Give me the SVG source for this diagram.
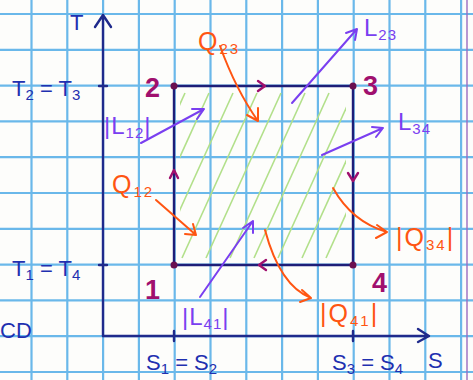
<svg xmlns="http://www.w3.org/2000/svg" width="473" height="380" viewBox="0 0 473 380">
<defs>
<style>
.grid line{stroke:#6ab8ea;stroke-width:2.2}
.ax{stroke:#1f2a8c;stroke-width:2.4;fill:none;stroke-linecap:round;stroke-linejoin:round}
.box{stroke:#1e1e78;stroke-width:2.4;fill:none}
.hatch line{stroke:#b2e08a;stroke-width:1.6}
.dir{stroke:#a0106e;stroke-width:2.4;fill:none;stroke-linecap:round;stroke-linejoin:round}
.pu{stroke:#7a3ff0;stroke-width:2;fill:none;stroke-linecap:round;stroke-linejoin:round}
.or{stroke:#ff5512;stroke-width:2;fill:none;stroke-linecap:round;stroke-linejoin:round}
text{font-family:"Liberation Sans","DejaVu Sans",sans-serif}
.tb{fill:#1f30b0;font-size:22px}
.tm{fill:#a0106e;font-size:27px;font-weight:bold}
.tp{fill:#7a3ff0;font-size:24px;letter-spacing:1px}
.to{fill:#ff5512;font-size:25px;letter-spacing:2px}
.sub{font-size:15px}
</style>
<clipPath id="hc"><rect x="180" y="92" width="166" height="168"/></clipPath>
</defs>
<rect width="473" height="380" fill="#fdfdfb"/>
<g class="grid">
<line x1="31.5" y1="0" x2="31.5" y2="380"/><line x1="67.3" y1="0" x2="67.3" y2="380"/><line x1="138.9" y1="0" x2="138.9" y2="380"/><line x1="210.5" y1="0" x2="210.5" y2="380"/><line x1="246.3" y1="0" x2="246.3" y2="380"/><line x1="282.1" y1="0" x2="282.1" y2="380"/><line x1="317.9" y1="0" x2="317.9" y2="380"/><line x1="389.5" y1="0" x2="389.5" y2="380"/><line x1="425.3" y1="0" x2="425.3" y2="380"/><line x1="461.1" y1="0" x2="461.1" y2="380"/><line x1="103.1" y1="0" x2="103.1" y2="380"/><line x1="174.7" y1="0" x2="174.7" y2="380"/><line x1="353.7" y1="0" x2="353.7" y2="380"/>
<line x1="0" y1="14" x2="473" y2="14"/><line x1="0" y1="49.8" x2="473" y2="49.8"/><line x1="0" y1="85.6" x2="473" y2="85.6"/><line x1="0" y1="121.4" x2="473" y2="121.4"/><line x1="0" y1="157.2" x2="473" y2="157.2"/><line x1="0" y1="193" x2="473" y2="193"/><line x1="0" y1="228.8" x2="473" y2="228.8"/><line x1="0" y1="264.6" x2="473" y2="264.6"/><line x1="0" y1="300.4" x2="473" y2="300.4"/><line x1="0" y1="336.2" x2="473" y2="336.2"/><line x1="0" y1="372" x2="473" y2="372"/>
</g>
<line x1="467" y1="0" x2="467" y2="380" stroke="#9a6cc0" stroke-width="1.4"/>
<g class="hatch" clip-path="url(#hc)">
<line x1="110" y1="258" x2="185" y2="93"/><line x1="134" y1="258" x2="209" y2="93"/><line x1="158" y1="258" x2="233" y2="93"/><line x1="182" y1="258" x2="257" y2="93"/><line x1="206" y1="258" x2="281" y2="93"/><line x1="230" y1="258" x2="305" y2="93"/><line x1="254" y1="258" x2="329" y2="93"/><line x1="278" y1="258" x2="353" y2="93"/><line x1="302" y1="258" x2="377" y2="93"/><line x1="326" y1="258" x2="401" y2="93"/>
</g>
<g id="axes">
<path class="ax" d="M103 336 V15 M95 27 L103 15 L111 27"/>
<path class="ax" d="M103 336 H428 M418 329 L429 336 L418 342"/>
<path class="ax" d="M99 86 H107 M99 265 H107 M174 331 V341 M353 331 V341"/>
<text class="tb" x="70" y="30" font-size="24">T</text>
<text class="tb" x="428" y="368" font-size="24">S</text>
<text class="tb" x="12" y="96">T<tspan class="sub" dy="4">2</tspan><tspan dy="-4"> = T</tspan><tspan class="sub" dy="4">3</tspan></text>
<text class="tb" x="12" y="276">T<tspan class="sub" dy="4">1</tspan><tspan dy="-4"> = T</tspan><tspan class="sub" dy="4">4</tspan></text>
<text class="tb" x="146" y="370">S<tspan class="sub" dy="4">1</tspan><tspan dy="-4"> = S</tspan><tspan class="sub" dy="4">2</tspan></text>
<text class="tb" x="332" y="370">S<tspan class="sub" dy="4">3</tspan><tspan dy="-4"> = S</tspan><tspan class="sub" dy="4">4</tspan></text>
<text class="tb" x="0" y="338">CD</text>
</g>
<g id="cycle">
<path class="box" d="M174 265 V86 H353 V265 Z"/>
<path class="dir" d="M170 178 L174 170 L178 178 M258 81 L265 86 L258 91 M348 173 L353 181 L358 173 M266 260 L259 265 L266 270"/>
</g>
<g id="node1"><circle cx="174" cy="265" r="3.5" fill="#6a1050"/><text class="tm" x="145" y="299">1</text></g>
<g id="node2"><circle cx="174" cy="86" r="3.5" fill="#6a1050"/><text class="tm" x="145" y="97">2</text></g>
<g id="node3"><circle cx="353" cy="86" r="3.5" fill="#6a1050"/><text class="tm" x="363" y="95">3</text></g>
<g id="node4"><circle cx="353" cy="265" r="3.5" fill="#6a1050"/><text class="tm" x="372" y="292">4</text></g>
<g id="connectors">
<path class="pu" d="M141 143 L204 109 M192 109 L204 109 L197 119"/>
<path class="pu" d="M292 103 L357 29 M346 33 L357 29 L355 40"/>
<path class="pu" d="M322 155 L383 128 M372 127 L383 128 L376 137"/>
<path class="pu" d="M200 297 L253 221 M243 228 L253 221 L253 233"/>
<path class="or" d="M220 46 Q236 90 258 121 M258 108 L258 121 L247 115"/>
<path class="or" d="M156 200 L196 235 M193 224 L196 235 L185 234"/>
<path class="or" d="M333 188 Q352 222 387 232 M377 225 L387 232 L376 238"/>
<path class="or" d="M265 230 Q280 286 311 298 M302 290 L311 298 L300 302"/>
</g>
<g id="labels">
<text class="tp" x="104" y="134">|L<tspan class="sub" dy="4">12</tspan><tspan dy="-4">|</tspan></text>
<text class="tp" x="364" y="36">L<tspan class="sub" dy="4">23</tspan></text>
<text class="tp" x="398" y="130">L<tspan class="sub" dy="4">34</tspan></text>
<text class="tp" x="182" y="325">|L<tspan class="sub" dy="4">41</tspan><tspan dy="-4">|</tspan></text>
<text class="to" x="198" y="50">Q<tspan class="sub" dy="4">23</tspan></text>
<text class="to" x="112" y="193">Q<tspan class="sub" dy="4">12</tspan></text>
<text class="to" x="396" y="246">|Q<tspan class="sub" dy="4">34</tspan><tspan dy="-4">|</tspan></text>
<text class="to" x="320" y="322">|Q<tspan class="sub" dy="4">41</tspan><tspan dy="-4">|</tspan></text>
</g>
</svg>
